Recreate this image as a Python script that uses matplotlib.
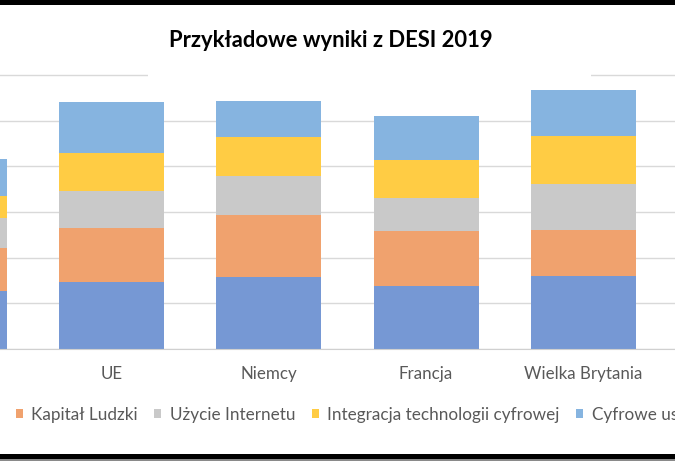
import matplotlib
matplotlib.use('Agg')
import matplotlib.pyplot as plt
from matplotlib.patches import Rectangle
import numpy as np

# Dane (DESI 2019, wkład wymiarów)
kraje = ['Polska', 'UE', 'Niemcy', 'Francja', 'Wielka Brytania']
serie = ['Łączność', 'Kapitał Ludzki', 'Użycie Internetu',
         'Integracja technologii cyfrowej', 'Cyfrowe usługi publiczne']
lacznosc = [12.7, 14.6, 15.7, 13.9, 16.0]
kapital = [9.5, 12.0, 13.6, 11.9, 10.1]
internet = [6.5, 8.0, 8.6, 7.2, 10.0]
integracja = [4.9, 8.4, 8.6, 8.3, 10.5]
uslugi = [7.9, 11.0, 7.8, 9.7, 10.2]
kolory = ['#7698d4', '#f0a26e', '#c9c9c9', '#ffcc44', '#86b4e0']

plt.rcParams['font.family'] = ['Lato', 'DejaVu Sans']
W, H = 675, 461
fig = plt.figure(figsize=(W / 100, H / 100), dpi=100)
fig.patch.set_facecolor('white')

# obszar wykresu wychodzi poza kadr (zrzut ekranu jest przycięty)
px_x = 157.3
lewy = -45.8 - px_x / 2
px_y = 274 / 60
ax = fig.add_axes([lewy / W, (H - 349) / H, 6 * px_x / W, 62 * px_y / H])

x = np.arange(len(kraje))
dol = np.zeros(len(kraje))
for nazwa, wart, kol in zip(serie, [lacznosc, kapital, internet, integracja, uslugi], kolory):
    ax.bar(x, wart, width=0.6675, bottom=dol, color=kol, label=nazwa, zorder=2)
    dol += np.array(wart)

ax.set_xlim(-0.5, 5.5)
ax.set_ylim(0, 62)
ax.set_yticks(range(0, 61, 10))
ax.yaxis.grid(True, color='#d9d9d9', lw=1.0, zorder=0)
ax.set_axisbelow(True)
ax.set_xticks(x)
ax.set_xticklabels(kraje, fontsize=12.2, color='#595959')
ax.tick_params(axis='x', length=0, pad=12)
ax.tick_params(axis='y', length=0, labelleft=False)
for s in ['top', 'right', 'left']:
    ax.spines[s].set_visible(False)
ax.spines['bottom'].set_color('#d0d0d0')

# biała ramka tytułu zasłania górną linię siatki
fig.patches.append(Rectangle((148 / W, (H - 82) / H), (591 - 148) / W, 14 / H,
                             transform=fig.transFigure, facecolor='white',
                             edgecolor='none', zorder=1))
fig.text(330.5 / W, (H - 46.7) / H, 'Przykładowe wyniki z DESI 2019', ha='center',
         va='baseline', fontsize=15.8, fontweight='bold', color='black')

leg = fig.legend(loc='center left', bbox_to_anchor=(0, (H - 415) / H), ncol=5,
                 frameon=False, fontsize=12.3, handlelength=0.42, handleheight=0.42,
                 handletextpad=0.5, columnspacing=0.95, borderpad=0, borderaxespad=0)
for t in leg.get_texts():
    t.set_color('#595959')

# przesunięcie legendy tak, by znacznik "Kapitał Ludzki" był na x≈16 px
fig.canvas.draw()
uchwyt = leg.legend_handles[1].get_window_extent()
dx = 15.7 - uchwyt.x0
leg.set_bbox_to_anchor((dx / W, (H - 415) / H), transform=fig.transFigure)

# czarne paski na górze i dole zrzutu
fig.patches.append(Rectangle((0, (H - 5) / H), 1, 5 / H, transform=fig.transFigure,
                             facecolor='black', edgecolor='none', zorder=3))
fig.patches.append(Rectangle((0, 2 / H), 1, 5 / H, transform=fig.transFigure,
                             facecolor='black', edgecolor='none', zorder=3))
fig.patches.append(Rectangle((0, 0), 1, 2 / H, transform=fig.transFigure,
                             facecolor='#8a8a8a', edgecolor='none', zorder=3))

fig.savefig('out.png', dpi=100)
